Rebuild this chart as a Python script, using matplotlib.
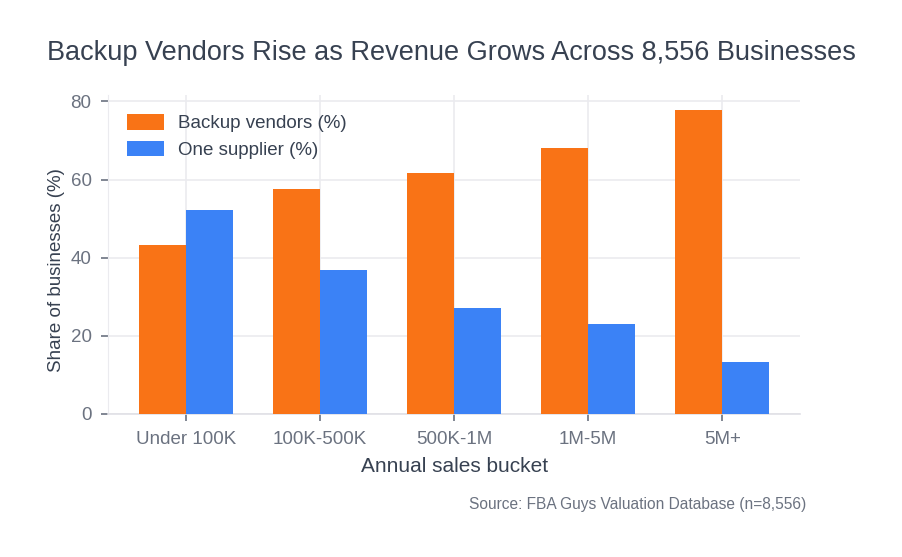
import numpy as np
import matplotlib.pyplot as plt

# Data

buckets = ["Under 100K", "100K-500K", "500K-1M", "1M-5M", "5M+"]
backup_vendors = [43.2, 57.5, 61.6, 68.0, 77.7]
one_supplier = [52.2, 36.9, 27.1, 23.1, 13.4]

ORANGE = "#f97316"
BLUE = "#3b82f6"
DARK = "#374151"
GRAY = "#6b7280"
GRID = "#ebebef"

plt.rcParams["font.family"] = ["Liberation Sans", "DejaVu Sans"]

fig = plt.figure(figsize=(9.02, 5.57), dpi=100)
ax = fig.add_axes([0.12, 0.257, 0.767, 0.572])

x = np.arange(len(buckets))
width = 0.35

ax.bar(x - width / 2, backup_vendors, width, color=ORANGE, label="Backup vendors (%)", zorder=3)
ax.bar(x + width / 2, one_supplier, width, color=BLUE, label="One supplier (%)", zorder=3)

ax.set_xlim(-0.58, len(buckets) - 1 + 0.58)
ax.set_ylim(0, max(backup_vendors) * 1.05)
ax.set_yticks([0, 20, 40, 60, 80])
ax.set_xticks(x)
ax.set_xticklabels(buckets)

ax.grid(True, color=GRID, linewidth=1.2, zorder=0)
ax.set_axisbelow(True)

for side in ["top", "right"]:
    ax.spines[side].set_visible(False)
ax.spines["left"].set_color(GRID)
ax.spines["bottom"].set_color("#e0e0e6")
ax.spines["bottom"].set_linewidth(1.2)

ax.tick_params(axis="both", colors=GRAY, labelsize=13.5, width=1.2)
ax.tick_params(axis="x", length=5, pad=7)
ax.tick_params(axis="y", length=5, pad=7)

ax.set_xlabel("Annual sales bucket", fontsize=15, color=DARK, labelpad=7)
ax.set_ylabel("Share of businesses (%)", fontsize=13.5, color=DARK)
ax.yaxis.set_label_coords(-0.063, 0.45)

fig.suptitle(
    "Backup Vendors Rise as Revenue Grows Across 8,556 Businesses",
    fontsize=19.5,
    color=DARK,
    y=0.928,
)

leg = ax.legend(
    loc="upper left",
    frameon=False,
    fontsize=13.5,
    labelcolor=DARK,
    handlelength=2.0,
    handleheight=0.9,
    handletextpad=0.7,
    borderaxespad=0.6,
    labelspacing=0.45,
)

fig.text(0.894, 0.095, "Source: FBA Guys Valuation Database (n=8,556)",
         ha="right", va="center", fontsize=11.2, color=GRAY)

plt.savefig("out.png", dpi=100)
